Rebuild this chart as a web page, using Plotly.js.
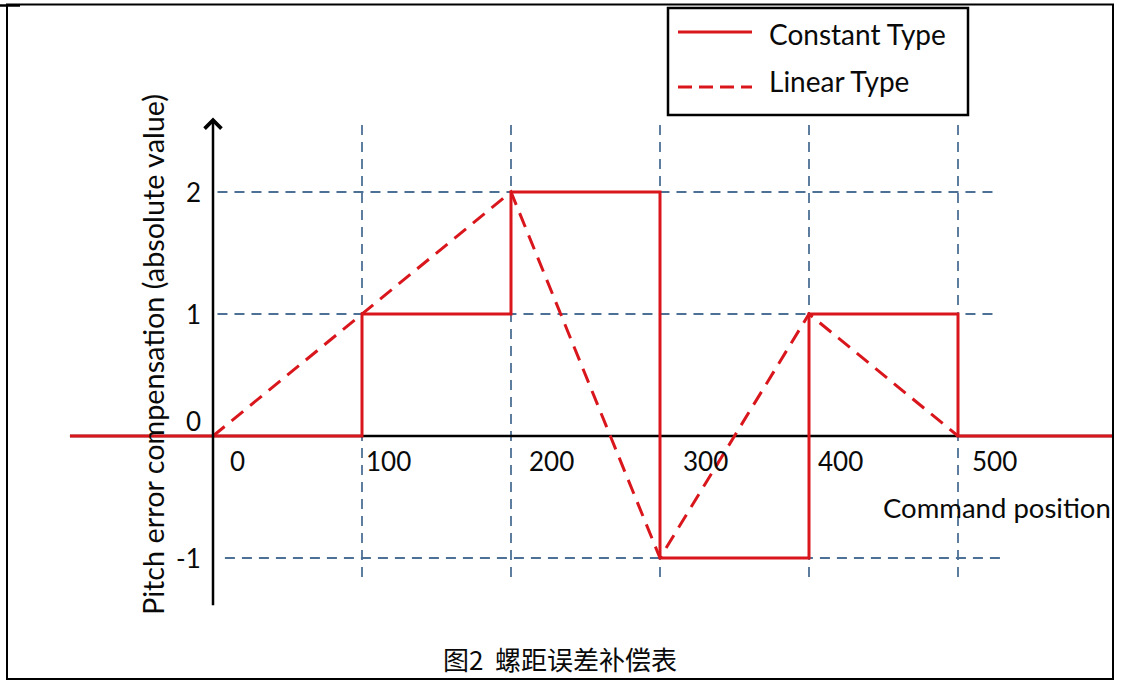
<!DOCTYPE html>
<html>
<head>
<meta charset="utf-8">
<script src="https://cdn.plot.ly/plotly-3.0.1.min.js"></script>
<style>
html,body{margin:0;padding:0;background:#fff;}
#chart{width:1121px;height:681px;}
</style>
</head>
<body>
<div id="chart"></div>
<script>
// ---- data ----
const seriesNames = ['Constant Type', 'Linear Type'];
// Constant type: step breakpoints (value holds until next x)
const constantX = [-96, 100, 200, 300, 400, 500, 604];
const constantY = [0, 1, 2, -1, 1, 0, 0];
// Linear type: straight segments between compensation points
const linearX = [0, 100, 200, 300, 400, 500];
const linearY = [0, 1, 2, -1, 1, 0];
// axis ticks
const xTicks = [0, 100, 200, 300, 400, 500];
const xTickLabels = ['0', '100', '200', '300', '400', '500'];
const yTicks = [2, 1, 0, -1];
const yTickLabels = ['2', '1', '0', '-1'];
const xTitle = 'Command position';
const yTitle = 'Pitch error compensation (absolute value)';
const caption = '图2  螺距误差补偿表';

// ---- layout helpers (pixel -> paper) ----
const W = 1121, H = 681;
const fx = p => p / W;
const fy = p => 1 - p / H;
const RED = '#d9161c';
const GRID = '#4d7096';
const FONT = 'Lato, "Open Sans", sans-serif';
const TXT = '#0a0a0a';

const traces = [
  {x: constantX, y: constantY, name: seriesNames[0], mode: 'lines',
   line: {shape: 'hv', color: RED, width: 3}, showlegend: false, hoverinfo: 'skip'},
  {x: linearX, y: linearY, name: seriesNames[1], mode: 'lines',
   line: {color: RED, width: 3, dash: '15px,9px'}, showlegend: false, hoverinfo: 'skip'}
];

const shapes = [];
// dashed guide lines
const gridDash = {color: GRID, width: 1.8, dash: '10px,7px'};
[2, 1].forEach(v => shapes.push({type: 'line', xref: 'x', yref: 'y', x0: 3, x1: 526, y0: v, y1: v, line: gridDash, layer: 'below'}));
shapes.push({type: 'line', xref: 'x', yref: 'y', x0: 8, x1: 532, y0: -1, y1: -1, line: gridDash, layer: 'below'});
xTicks.slice(1).forEach(v => shapes.push({type: 'line', xref: 'x', yref: 'y', x0: v, x1: v, y0: 2.55, y1: -1.2, line: gridDash, layer: 'below'}));
// horizontal axis line
shapes.push({type: 'line', xref: 'x', yref: 'y', x0: -96, x1: 604, y0: 0, y1: 0, line: {color: '#000', width: 2.5}, layer: 'below'});
// outer frame
shapes.push({type: 'rect', xref: 'paper', yref: 'paper', x0: fx(7), x1: fx(1113), y0: fy(679), y1: fy(4.5), line: {color: '#000', width: 2}});
shapes.push({type: 'line', xref: 'paper', yref: 'paper', x0: fx(0), x1: fx(20), y0: fy(5.5), y1: fy(5.5), line: {color: '#000', width: 2.5}});
// legend box
shapes.push({type: 'rect', xref: 'paper', yref: 'paper', x0: fx(668), x1: fx(968), y0: fy(115), y1: fy(8), line: {color: '#000', width: 2.5}, fillcolor: 'rgba(255,255,255,1)'});
shapes.push({type: 'line', xref: 'paper', yref: 'paper', x0: fx(678), x1: fx(752), y0: fy(32), y1: fy(32), line: {color: RED, width: 3}});
shapes.push({type: 'line', xref: 'paper', yref: 'paper', x0: fx(678), x1: fx(752), y0: fy(87), y1: fy(87), line: {color: RED, width: 3, dash: '14px,7px'}});

const annotations = [];
const tickFont = {family: FONT, size: 26, color: TXT};
const xShifts = [15, 2, 16, 21, 7, 12];
xTicks.forEach((v, i) => annotations.push({x: v, y: 0, xref: 'x', yref: 'y', text: xTickLabels[i], showarrow: false,
  xanchor: 'left', yanchor: 'middle', xshift: xShifts[i], yshift: -25, font: tickFont}));
yTicks.forEach((v, i) => annotations.push({x: 0, y: v, xref: 'x', yref: 'y', text: yTickLabels[i], showarrow: false,
  xanchor: 'right', yanchor: 'middle', xshift: -10, yshift: v === 0 ? 15 : 0, font: tickFont}));
// vertical axis with arrow
annotations.push({x: 0, y: 2.61, ax: 0, ay: -1.40, xref: 'x', yref: 'y', axref: 'x', ayref: 'y', text: '',
  showarrow: true, arrowhead: 4, arrowsize: 1.3, arrowwidth: 2.5, arrowcolor: '#000'});
// titles
annotations.push({x: fx(881), y: fy(507), xref: 'paper', yref: 'paper', text: xTitle, showarrow: false,
  xanchor: 'left', yanchor: 'middle', font: {family: FONT, size: 27.5, color: TXT}});
annotations.push({x: fx(153), y: fy(355), xref: 'paper', yref: 'paper', text: yTitle, showarrow: false, textangle: -90,
  xanchor: 'center', yanchor: 'middle', font: {family: FONT, size: 28.8, color: TXT}});
annotations.push({x: fx(560), y: fy(658), xref: 'paper', yref: 'paper', text: caption, showarrow: false,
  xanchor: 'center', yanchor: 'middle', font: {family: '"Noto Sans CJK SC", sans-serif', size: 26, color: TXT}});
// legend labels
annotations.push({x: fx(767), y: fy(34), xref: 'paper', yref: 'paper', text: seriesNames[0], showarrow: false,
  xanchor: 'left', yanchor: 'middle', font: {family: FONT, size: 28, color: TXT}});
annotations.push({x: fx(767), y: fy(81), xref: 'paper', yref: 'paper', text: seriesNames[1], showarrow: false,
  xanchor: 'left', yanchor: 'middle', font: {family: FONT, size: 28, color: TXT}});

const layout = {
  width: W, height: H,
  margin: {l: 0, r: 0, t: 0, b: 0},
  paper_bgcolor: '#fff', plot_bgcolor: '#fff',
  showlegend: false,
  xaxis: {range: [-213 / 1.49, (W - 213) / 1.49], visible: false, fixedrange: true},
  yaxis: {range: [(436 - H) / 122, 436 / 122], visible: false, fixedrange: true},
  shapes: shapes,
  annotations: annotations
};

Plotly.newPlot('chart', traces, layout, {displayModeBar: false, staticPlot: true});
</script>
</body>
</html>
